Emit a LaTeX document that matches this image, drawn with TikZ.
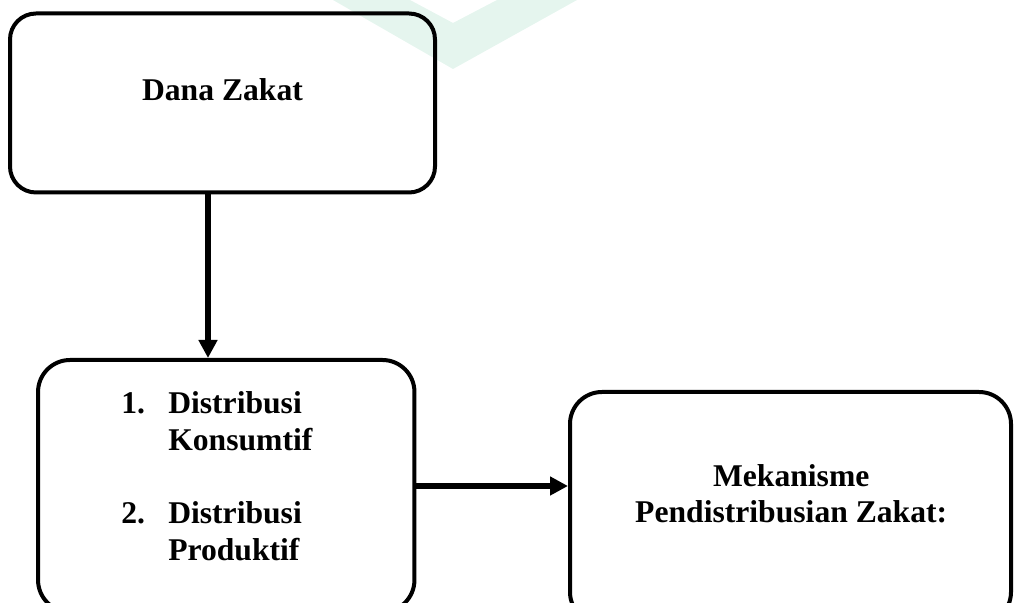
\documentclass[tikz,border=0pt]{standalone}
\usepackage{fontspec}
\setmainfont{Liberation Serif}
\usetikzlibrary{positioning,arrows.meta,calc}
\definecolor{wmgreen}{HTML}{E5F5EE}
\newcommand{\numitem}[1]{\makebox[1.175cm][l]{#1}}
\tikzset{
  box/.style    ={draw, rectangle, line width=1mm, inner sep=0pt},
  lbl/.style    ={inner sep=0pt, font=\bfseries\fontsize{22.5}{25}\selectfont},
  listlbl/.style={inner sep=0pt, align=left, font=\bfseries\fontsize{22.5}{26.2}\selectfont},
  arr/.style    ={-{Triangle[length=0.45cm, width=0.45cm]}, line width=1.5mm},
}

\begin{document}
\begin{tikzpicture}
  \useasboundingbox (0,0) rectangle (25.35,15.075);
  % faint watermark behind the boxes
  \fill[wmgreen] (8.325,15.075) -- (11.325,13.35) -- (14.425,15.075)
       -- (12.425,15.075) -- (11.325,14.5) -- (10.25,15.075) -- cycle;

  % Boxes
  \node[box, rounded corners=0.65cm, minimum width=10.625cm, minimum height=4.475cm]
       (zakat) at (5.5625,12.5) {};
  \node[box, rounded corners=0.8cm, minimum width=9.41cm, minimum height=6.3cm]
       (distro) at (5.656,2.925) {};
  \node[box, rounded corners=0.8cm, minimum width=11.025cm, minimum height=5.8cm]
       (mek) at (19.7625,2.375) {};

  % Texts
  \node[lbl] (zakatlbl) at (5.5625,12.84) {Dana Zakat};
  \node[listlbl, anchor=north west] (distrolbl) at (3.025,5.2875)
       {\numitem{1.}Distribusi\\\numitem{}Konsumtif\\[0.9cm]\numitem{2.}Distribusi\\\numitem{}Produktif};
  \node[lbl, align=center] (meklbl) at (19.78,2.73) {Mekanisme\\Pendistribusian Zakat:};

  % Connectors
  \draw[arr] ([xshift=-0.3625cm]zakat.south) -- ([xshift=-0.3625cm]zakat.south |- distro.north);
  \draw[arr] (distro.east) -- (distro.east -| mek.west);
\end{tikzpicture}
\end{document}
